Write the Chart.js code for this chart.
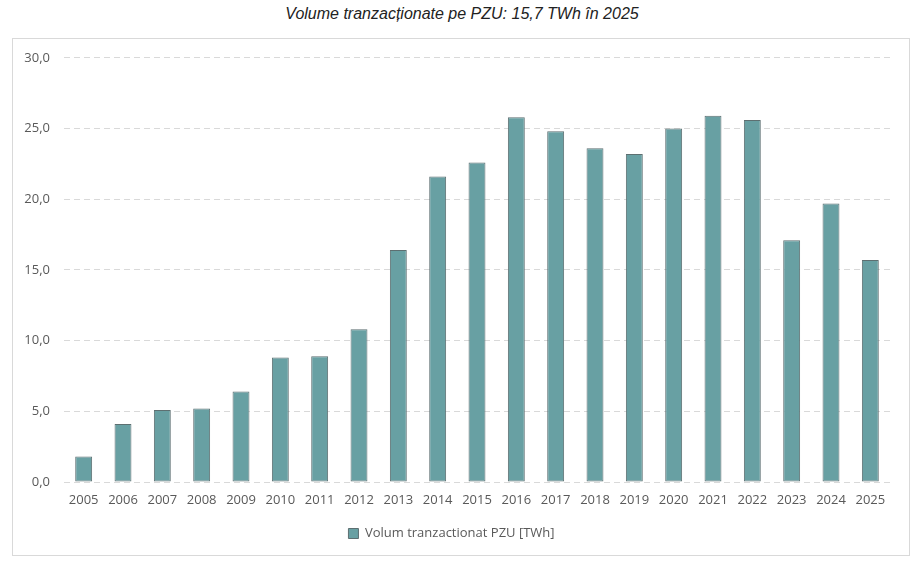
<!DOCTYPE html>
<html>
<head>
<meta charset="utf-8">
<script src="https://cdn.jsdelivr.net/npm/chart.js"></script>
<style>
  html, body { margin: 0; padding: 0; background: #fff; }
  #page { position: relative; width: 924px; height: 564px; }
  #title {
    position: absolute; left: 0; top: 5px; width: 924px; text-align: center;
    font-family: "Liberation Sans", Arial, sans-serif; font-style: italic;
    font-size: 16px; color: #222;
  }
  #box {
    position: absolute; left: 12px; top: 38px; width: 898px; height: 518px;
    border: 1px solid #d9d9d9; box-sizing: border-box;
  }
  #box canvas { display: block; position: absolute; left: 0; top: -3px; }
</style>
</head>
<body>
<div id="page">
  <div id="title">Volume tranzacționate pe PZU: 15,7 TWh în 2025</div>
  <div id="box"><canvas id="chart" width="896" height="519"></canvas></div>
</div>
<script>
// years on the x axis
const years = ['2005', '2006', '2007', '2008', '2009', '2010', '2011', '2012', '2013', '2014',
  '2015', '2016', '2017', '2018', '2019', '2020', '2021', '2022', '2023', '2024', '2025'];

// traded volume, TWh
const volumes = [1.8, 4.1, 5.1, 5.2, 6.4, 8.8, 8.9, 10.8, 16.4, 21.6,
  22.6, 25.8, 24.8, 23.6, 23.2, 25.0, 25.9, 25.6, 17.1, 19.7, 15.7];

const seriesLabel = 'Volum tranzactionat PZU [TWh]';

const textColor = '#595959';
const font = { family: '"Open Sans", sans-serif', size: 13 };

new Chart(document.getElementById('chart'), {
  type: 'bar',
  data: {
    labels: years,
    datasets: [{
      label: seriesLabel,
      data: volumes,
      backgroundColor: '#68a0a3',
      borderColor: '#5d6f71',
      borderWidth: 1,
      borderSkipped: false,
      barPercentage: 0.86,
      categoryPercentage: 0.5
    }]
  },
  options: {
    responsive: false,
    animation: false,
    layout: { padding: { top: 15, right: 19, bottom: 5, left: 0 } },
    plugins: {
      tooltip: { enabled: false },
      legend: {
        position: 'bottom',
        labels: {
          color: textColor,
          font: font,
          boxWidth: 10,
          boxHeight: 10,
          padding: 10
        }
      }
    },
    scales: {
      y: {
        min: 0,
        max: 30,
        ticks: {
          stepSize: 5,
          color: textColor,
          font: font,
          padding: 14,
          callback: v => v.toFixed(1).replace('.', ',')
        },
        grid: {
          color: '#d9d9d9',
          drawTicks: false
        },
        border: { display: false, dash: [6, 4] },
        afterFit: s => { s.width = 51; }
      },
      x: {
        ticks: {
          color: textColor,
          font: font,
          padding: 2,
          maxRotation: 0,
          autoSkip: false
        },
        grid: { display: false },
        border: { display: false },
        afterFit: s => { s.height = 35; }
      }
    }
  }
});
</script>
</body>
</html>
